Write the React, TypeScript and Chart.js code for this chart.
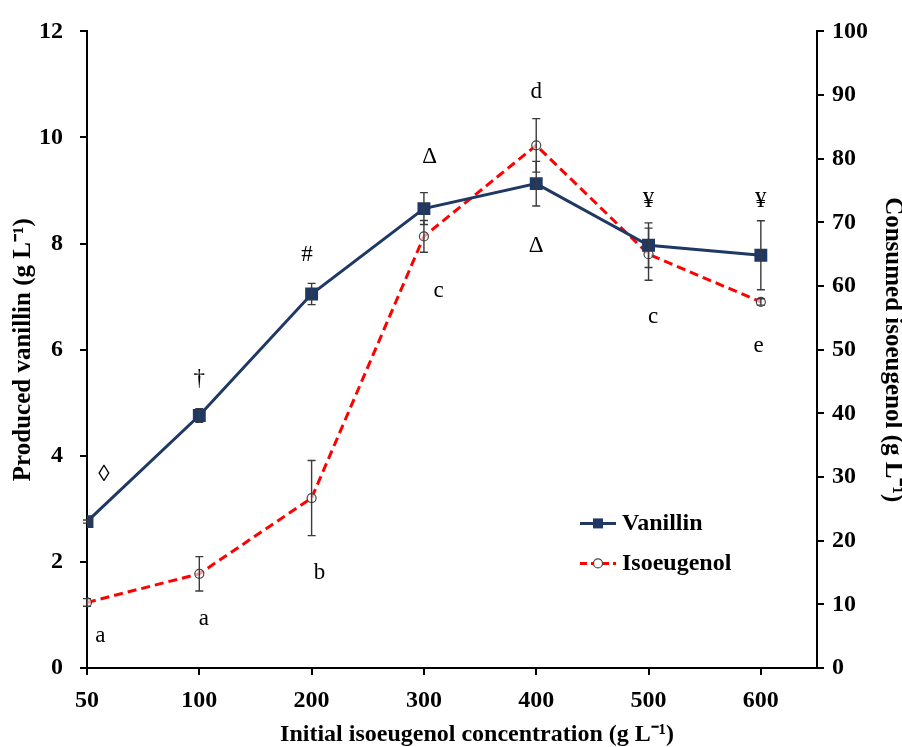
import React, { useEffect, useRef } from 'react';
import { Chart, registerables } from 'chart.js';

Chart.register(...registerables);

const categories = ['50', '100', '200', '300', '400', '500', '600'];
const vanillin = [2.76, 4.76, 7.05, 8.66, 9.13, 7.97, 7.78];
const vanillinErr = [0.03, 0.13, 0.2, 0.3, 0.42, 0.42, 0.65];
const isoeugenol = [10.3, 14.8, 26.7, 67.8, 82.1, 65.0, 57.5];
const isoeugenolErr = [0.6, 2.7, 5.9, 2.5, 4.2, 4.1, 0.5];
const leftTicks = [0, 2, 4, 6, 8, 10, 12];
const rightTicks = [0, 10, 20, 30, 40, 50, 60, 70, 80, 90, 100];
const xTitle = 'Initial isoeugenol concentration (g L⁻¹)';
// annotation labels (position in x-index / left-axis units)
const annTexts = ['◊', '†', '#', 'Δ', 'd', 'Δ', '¥', '¥', 'c', 'c', 'e', 'b', 'a', 'a'];
const annX = [0.15, 1, 1.96, 3.05, 4, 4, 5, 6, 3.13, 5.04, 5.98, 2.07, 1.04, 0.12];
const annY = [3.63, 5.45, 7.78, 9.63, 10.85, 7.95, 8.8, 8.8, 7.11, 6.62, 6.08, 1.79, 0.93, 0.6];

const NAVY = '#1F3864';
const RED = '#FF0000';
const SERIF = '"Liberation Serif", "Times New Roman", serif';

const errorBarPlugin = {
  id: 'errorBars',
  afterDatasetsDraw(chart: any) {
    const ctx = chart.ctx;
    const xs = chart.scales.x;
    const sets = [
      { vals: vanillin, errs: vanillinErr, axis: chart.scales.y },
      { vals: isoeugenol, errs: isoeugenolErr, axis: chart.scales.y1 },
    ];
    ctx.save();
    ctx.strokeStyle = '#3a3a3a';
    ctx.lineWidth = 1.4;
    ctx.setLineDash([]);
    sets.forEach((s) => {
      s.vals.forEach((v, i) => {
        const px = xs.getPixelForValue(i);
        const top = s.axis.getPixelForValue(v + s.errs[i]);
        const bot = s.axis.getPixelForValue(v - s.errs[i]);
        ctx.beginPath();
        ctx.moveTo(px, top);
        ctx.lineTo(px, bot);
        ctx.moveTo(px - 4, top);
        ctx.lineTo(px + 4, top);
        ctx.moveTo(px - 4, bot);
        ctx.lineTo(px + 4, bot);
        ctx.stroke();
      });
    });
    ctx.restore();
  },
  afterDraw(chart: any) {
    const ctx = chart.ctx;
    const xs = chart.scales.x;
    const ys = chart.scales.y;
    const ca = chart.chartArea;
    ctx.save();
    // annotations
    ctx.fillStyle = '#000';
    ctx.font = `23px ${SERIF}`;
    ctx.textAlign = 'center';
    ctx.textBaseline = 'middle';
    annTexts.forEach((t, i) => {
      ctx.fillText(t, xs.getPixelForValue(annX[i]), ys.getPixelForValue(annY[i]));
    });
    // x-axis title
    ctx.font = `bold 24px ${SERIF}`;
    ctx.fillText(xTitle, ca.left + 390, chart.height - 12);
    // legend
    const x0 = ca.left + 493;
    const x1 = x0 + 36;
    const xm = (x0 + x1) / 2;
    const ya = ca.top + 492;
    const yb = ca.top + 532;
    ctx.lineWidth = 3;
    ctx.strokeStyle = NAVY;
    ctx.setLineDash([]);
    ctx.beginPath();
    ctx.moveTo(x0, ya);
    ctx.lineTo(x1, ya);
    ctx.stroke();
    ctx.fillStyle = NAVY;
    ctx.fillRect(xm - 5, ya - 5, 10, 10);
    ctx.strokeStyle = RED;
    ctx.setLineDash([7, 4]);
    ctx.beginPath();
    ctx.moveTo(x0, yb);
    ctx.lineTo(x1, yb);
    ctx.stroke();
    ctx.setLineDash([]);
    ctx.fillStyle = '#fff';
    ctx.strokeStyle = '#444';
    ctx.lineWidth = 1.2;
    ctx.beginPath();
    ctx.arc(xm, yb, 4.5, 0, Math.PI * 2);
    ctx.fill();
    ctx.stroke();
    ctx.fillStyle = '#000';
    ctx.font = `bold 24px ${SERIF}`;
    ctx.textAlign = 'left';
    ctx.fillText('Vanillin', x1 + 6, ya);
    ctx.fillText('Isoeugenol', x1 + 6, yb);
    ctx.restore();
  },
};

export default function App() {
  const ref = useRef<HTMLCanvasElement | null>(null);
  useEffect(() => {
    if (!ref.current) return;
    const tickFont = { family: SERIF, size: 24, weight: 'bold' as const };
    const chart = new Chart(ref.current, {
      type: 'line',
      data: {
        datasets: [
          {
            label: 'Isoeugenol',
            data: isoeugenol.map((v, i) => ({ x: i, y: v })),
            yAxisID: 'y1',
            borderColor: RED,
            borderWidth: 3,
            borderDash: [9, 5],
            pointStyle: 'circle',
            pointRadius: 4.5,
            pointBorderColor: '#444',
            pointBorderWidth: 1.2,
            pointBackgroundColor: 'rgba(255,255,255,0.6)',
            tension: 0,
            order: 2,
          },
          {
            label: 'Vanillin',
            data: vanillin.map((v, i) => ({ x: i, y: v })),
            yAxisID: 'y',
            borderColor: NAVY,
            borderWidth: 3,
            pointStyle: 'rect',
            pointRadius: 7,
            pointBorderColor: NAVY,
            pointBackgroundColor: NAVY,
            tension: 0,
            order: 1,
          },
        ],
      },
      options: {
        animation: false,
        responsive: true,
        maintainAspectRatio: false,
        layout: { padding: { top: 25, left: 0, right: 0, bottom: 0 } },
        plugins: { legend: { display: false }, tooltip: { enabled: false } },
        scales: {
          x: {
            type: 'linear',
            min: 0,
            max: 6.5,
            afterBuildTicks: (axis: any) => {
              axis.ticks = categories.map((_, i) => ({ value: i }));
            },
            afterFit: (s: any) => {
              s.height = 79;
            },
            ticks: {
              callback: (v: any) => categories[v] ?? '',
              font: tickFont,
              color: '#000',
              padding: 11,
              maxRotation: 0,
              autoSkip: false,
            },
            grid: { drawOnChartArea: false, color: '#000', tickLength: 7, lineWidth: 2 },
            border: { color: '#000', width: 2 },
            title: { display: false },
          },
          y: {
            position: 'left',
            min: 0,
            max: 12,
            afterBuildTicks: (axis: any) => {
              axis.ticks = leftTicks.map((v) => ({ value: v }));
            },
            afterFit: (s: any) => {
              s.width = 87;
            },
            ticks: { font: tickFont, color: '#000', padding: 17 },
            grid: { drawOnChartArea: false, color: '#000', tickLength: 7, lineWidth: 2 },
            border: { color: '#000', width: 2 },
            title: {
              display: true,
              text: 'Produced vanillin (g L⁻¹)',
              font: { family: SERIF, size: 25, weight: 'bold', lineHeight: 1 },
              color: '#000',
              padding: { top: 11, bottom: 0 },
            },
          },
          y1: {
            position: 'right',
            min: 0,
            max: 100,
            afterBuildTicks: (axis: any) => {
              axis.ticks = rightTicks.map((v) => ({ value: v }));
            },
            afterFit: (s: any) => {
              s.width = 85;
            },
            ticks: { font: tickFont, color: '#000', padding: 8 },
            grid: { drawOnChartArea: false, color: '#000', tickLength: 7, lineWidth: 2 },
            border: { color: '#000', width: 2 },
            title: {
              display: true,
              text: 'Consumed isoeugenol (g L⁻¹)',
              font: { family: SERIF, size: 25, weight: 'bold', lineHeight: 0.8 },
              color: '#000',
              padding: { top: 0, bottom: 0 },
            },
          },
        },
      },
      plugins: [errorBarPlugin],
    });
    return () => chart.destroy();
  }, []);
  return (
    <div style={{ position: 'fixed', left: 0, top: 0, width: 902, height: 747, background: '#fff' }}>
      <canvas ref={ref} />
    </div>
  );
}
